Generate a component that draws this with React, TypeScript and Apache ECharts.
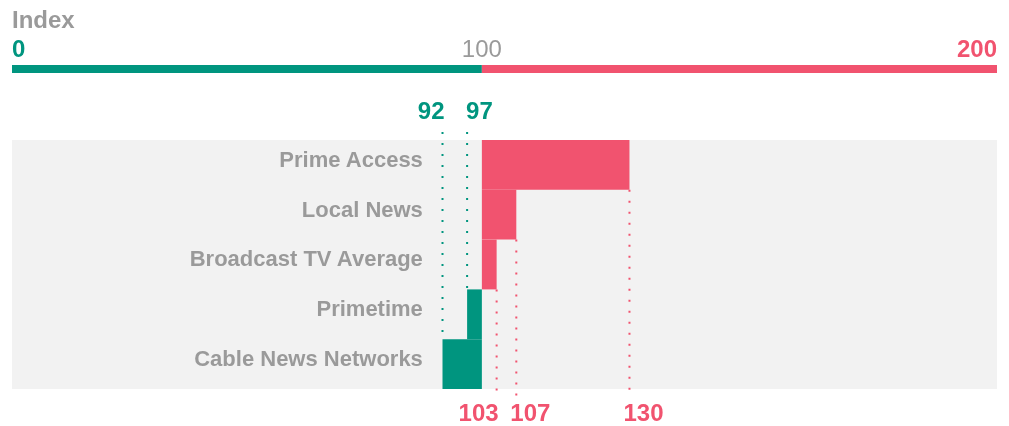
import React, { useEffect, useRef } from "react";
import * as echarts from "echarts";

const categories = ["Prime Access", "Local News", "Broadcast TV Average", "Primetime", "Cable News Networks"];
const values = [130, 107, 103, 97, 92];
const baseline = 100;
const legendTicks = [0, 100, 200];
const axisTitle = "Index";

const GREEN = "#00957F";
const PINK = "#F1536F";
const GREY = "#9A9A9A";
const FONT = "'Liberation Sans', Arial, Helvetica, sans-serif";
// central baseline offset for Arial-like fonts: baseline = y + 0.347 * size
const mid = (baselineY: number, size: number) => baselineY - 0.347 * size;

export default function App() {
  const ref = useRef<HTMLDivElement>(null);
  useEffect(() => {
    const chart = echarts.init(ref.current!, null, { renderer: "svg" });
    const data = values.map((v, i) => [v, i]);
    const greenVals = values.filter((v) => v < baseline).sort((a, b) => a - b);
    const pinkVals = values.filter((v) => v > baseline).sort((a, b) => a - b);

    chart.setOption({
      animation: false,
      textStyle: { fontFamily: FONT },
      grid: {
        left: 12,
        right: 12,
        top: 140,
        height: 249,
        show: true,
        backgroundColor: "#F2F2F2",
        borderWidth: 0,
        containLabel: false,
        outerBoundsMode: "none",
      },
      xAxis: { type: "value", min: 4.5, max: 204.7, show: false },
      yAxis: {
        type: "category",
        data: categories,
        inverse: true,
        axisLine: { show: false },
        axisTick: { show: false },
        splitLine: { show: false },
        axisLabel: { show: false },
      },
      series: [
        {
          type: "custom",
          name: "legend",
          clip: false,
          silent: true,
          data: [[baseline, 0]],
          renderItem: (params: any, api: any) => {
            const cs = params.coordSys;
            const m = api.coord([baseline, 0])[0];
            const y = cs.y - 75;
            const right = cs.x + cs.width;
            return {
              type: "group",
              children: [
                { type: "rect", shape: { x: cs.x, y, width: m - cs.x, height: 8 }, style: { fill: GREEN } },
                { type: "rect", shape: { x: m, y, width: right - m, height: 8 }, style: { fill: PINK } },
                {
                  type: "text",
                  style: { text: axisTitle, x: cs.x, y: mid(28, 24), fill: GREY, font: `bold 24px ${FONT}`, align: "left", verticalAlign: "middle" },
                },
                {
                  type: "text",
                  style: { text: String(legendTicks[0]), x: cs.x, y: mid(57, 24), fill: GREEN, font: `bold 24px ${FONT}`, align: "left", verticalAlign: "middle" },
                },
                {
                  type: "text",
                  style: { text: String(legendTicks[1]), x: m, y: mid(57, 24), fill: GREY, font: `24px ${FONT}`, align: "center", verticalAlign: "middle" },
                },
                {
                  type: "text",
                  style: { text: String(legendTicks[2]), x: right, y: mid(57, 24), fill: PINK, font: `bold 24px ${FONT}`, align: "right", verticalAlign: "middle" },
                },
              ],
            };
          },
        },
        {
          type: "custom",
          name: "guides",
          clip: false,
          silent: true,
          z: 1,
          data,
          renderItem: (params: any, api: any) => {
            const cs = params.coordSys;
            const v = api.value(0);
            const c = api.value(1);
            const [x, cy] = api.coord([v, c]);
            const h = api.size([0, 1])[1];
            const below = v < baseline;
            const color = below ? GREEN : PINK;
            let y1: number, y2: number, ty: number, align: string, tx: number;
            if (below) {
              y1 = cs.y - 8;
              y2 = cy - h / 2;
              ty = mid(119, 24);
              const idx = greenVals.indexOf(v);
              align = idx === 0 ? "right" : "left";
              tx = idx === 0 ? x + 2 : x - 1;
            } else {
              y1 = cy + h / 2;
              y2 = cs.y + cs.height + 7;
              ty = mid(421, 24);
              const idx = pinkVals.indexOf(v);
              align = idx === 0 ? "right" : "left";
              tx = idx === 0 ? x + 2 : x - 6;
            }
            return {
              type: "group",
              children: [
                {
                  type: "line",
                  shape: { x1: x, y1, x2: x, y2 },
                  style: { stroke: color, lineWidth: 2, lineDash: [2, 9] },
                },
                {
                  type: "text",
                  style: {
                    text: String(v),
                    x: tx,
                    y: ty,
                    fill: color,
                    font: `bold 24px ${FONT}`,
                    align,
                    verticalAlign: "middle",
                  },
                },
              ],
            };
          },
        },
        {
          type: "custom",
          name: "bars",
          clip: false,
          silent: true,
          z: 2,
          data,
          renderItem: (params: any, api: any) => {
            const v = api.value(0);
            const c = api.value(1);
            const start = api.coord([baseline, c]);
            const end = api.coord([v, c]);
            const h = api.size([0, 1])[1];
            return {
              type: "group",
              children: [
                {
                  type: "rect",
                  shape: {
                    x: Math.min(start[0], end[0]),
                    y: start[1] - h / 2,
                    width: Math.abs(end[0] - start[0]),
                    height: h,
                  },
                  style: { fill: v < baseline ? GREEN : PINK },
                },
                {
                  type: "text",
                  style: {
                    text: categories[c],
                    x: start[0] - 59,
                    y: mid(start[1] + 2, 22),
                    fill: GREY,
                    font: `bold 22px ${FONT}`,
                    align: "right",
                    verticalAlign: "middle",
                  },
                },
              ],
            };
          },
        },
      ],
    });
    return () => chart.dispose();
  }, []);
  return <div ref={ref} style={{ position: "fixed", left: 0, top: 0, width: 1009, height: 426 }} />;
}
